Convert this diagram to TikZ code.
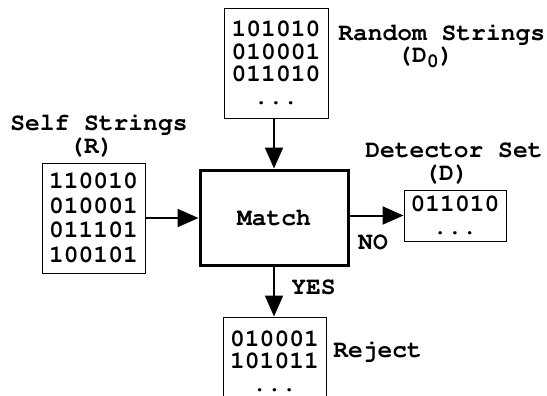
\documentclass[tikz,border=0pt]{standalone}
\usepackage[T1]{fontenc}
\renewcommand\ttdefault{pcr}
\usetikzlibrary{arrows.meta}

\tikzset{
  cour/.style={font=\ttfamily\bfseries\fontsize{12.3}{11.25}\selectfont},
  bits/.style={cour,draw,line width=.5pt,align=center,inner sep=0pt},
  lbl/.style={cour,align=left,inner sep=0pt,anchor=north west},
  flow/.style={line width=1pt,-{Triangle[length=10.5pt,width=9pt]}},
}

\begin{document}
\begin{tikzpicture}[x=.5pt,y=-.5pt]
\useasboundingbox (0,0) rectangle (547,396);

\node[bits,minimum width=52pt,minimum height=55pt] (rand) at (276,63)
  {101010\\010001\\011010\\...};
\node[bits,minimum width=51.5pt,minimum height=55pt,
  font=\ttfamily\bfseries\fontsize{12.3}{12.25}\selectfont] (self) at (93.5,218)
  {110010\\010001\\011101\\100101};
\node[cour,draw,line width=1.5pt,minimum width=74pt,minimum height=47.5pt] (match) at (274,217.5) {Match};
\node[bits,minimum width=51pt,minimum height=25.5pt] (det) at (455,215.5)
  {011010\\...};
\node[bits,minimum width=51.5pt,minimum height=44pt] (rej) at (274.5,361)
  {010001\\101011\\...};

% labels
\node[lbl,font=\ttfamily\bfseries\fontsize{12.3}{11}\selectfont] (randlbl) at (338,24)
  {Random Strings\\\hspace*{2.4em}(D\raisebox{-2.5pt}{\fontsize{10}{10}\selectfont 0})};
\node[lbl,font=\ttfamily\bfseries\fontsize{12.3}{11.5}\selectfont] (selflbl) at (10,114)
  {Self Strings\\\hspace*{2.4em}(R)};
\node[lbl,font=\ttfamily\bfseries\fontsize{12.3}{11.5}\selectfont] (detlbl) at (365,142)
  {Detector Set\\\hspace*{2.4em}(D)};
\node[cour,inner sep=0pt,anchor=base west] (rejlbl) at (333,357) {Reject};
\node[cour,inner sep=0pt] (no) at (373,242.5) {NO};
\node[cour,inner sep=0pt] (yes) at (313.5,287.5) {YES};

\draw[flow] (match.north |- rand.south) -- (match.north);
\draw[flow] (self.east) -- (self.east -| match.west);
\draw[flow] (match.east |- det.west) -- (det.west);
\draw[flow] (match.south) -- (match.south |- rej.north);

\end{tikzpicture}
\end{document}
